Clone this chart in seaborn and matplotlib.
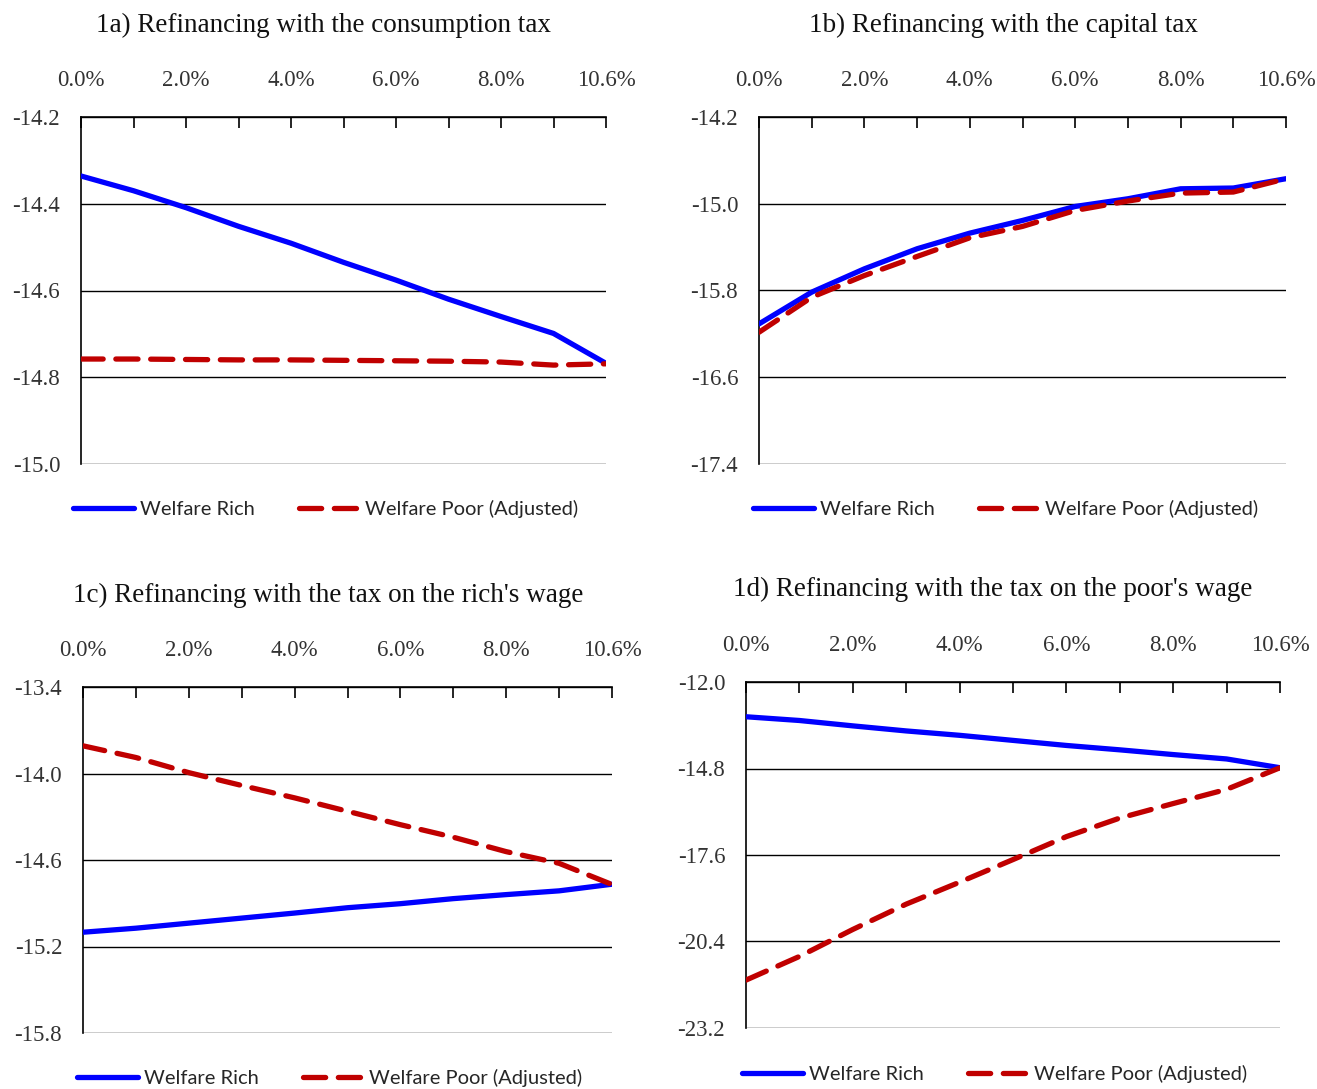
import numpy as np
import pandas as pd
import seaborn as sns
import matplotlib.pyplot as plt

# Tax-rate categories on the horizontal axis (percent)
rate_labels = ["0.0%", "1.0%", "2.0%", "3.0%", "4.0%", "5.0%",
               "6.0%", "7.0%", "8.0%", "9.0%", "10.6%"]
shown_labels = ["0.0%", "", "2.0%", "", "4.0%", "", "6.0%", "", "8.0%", "", "10.6%"]

# 1a) consumption tax
rich_a = [-14.336, -14.370, -14.409, -14.452, -14.491, -14.535,
          -14.576, -14.620, -14.660, -14.699, -14.768]
poor_a = [-14.758, -14.758, -14.759, -14.760, -14.760, -14.761,
          -14.762, -14.763, -14.765, -14.772, -14.769]
yticks_a = [-14.2, -14.4, -14.6, -14.8, -15.0]

# 1b) capital tax
rich_b = [-16.108, -15.815, -15.600, -15.415, -15.271, -15.154,
          -15.025, -14.954, -14.862, -14.855, -14.769]
poor_b = [-16.185, -15.862, -15.662, -15.486, -15.314, -15.209,
          -15.062, -14.975, -14.902, -14.892, -14.769]
yticks_b = [-14.2, -15.0, -15.8, -16.6, -17.4]

# 1c) tax on the rich's wage
rich_c = [-15.101, -15.073, -15.038, -15.003, -14.968, -14.931,
          -14.903, -14.868, -14.840, -14.814, -14.768]
poor_c = [-13.808, -13.889, -13.994, -14.083, -14.169, -14.262,
          -14.355, -14.442, -14.542, -14.623, -14.770]
yticks_c = [-13.4, -14.0, -14.6, -15.2, -15.8]

# 1d) tax on the poor's wage
rich_d = [-13.125, -13.246, -13.420, -13.584, -13.726, -13.890,
          -14.054, -14.196, -14.349, -14.491, -14.775]
poor_d = [-21.649, -20.884, -20.010, -19.190, -18.480, -17.748,
          -17.005, -16.404, -15.934, -15.475, -14.775]
yticks_d = [-12.0, -14.8, -17.6, -20.4, -23.2]

titles = ["1a) Refinancing with the consumption tax",
          "1b) Refinancing with the capital tax",
          "1c) Refinancing with the tax on the rich's wage",
          "1d) Refinancing with the tax on the poor's wage"]

series_names = ["Welfare Rich", "Welfare Poor (Adjusted)"]
palette = {"Welfare Rich": "#0000FF", "Welfare Poor (Adjusted)": "#C00000"}
dashes = {"Welfare Rich": "", "Welfare Poor (Adjusted)": (4.2, 2.4)}

sns.set_theme(style="white")
plt.rcParams["font.family"] = ["Liberation Serif", "DejaVu Serif"]
plt.rcParams["lines.dash_capstyle"] = "round"
plt.rcParams["lines.solid_capstyle"] = "round"

W, H = 1317, 1089
fig = plt.figure(figsize=(W / 100, H / 100), dpi=100)
fig.patch.set_facecolor("white")


def px_rect(left, right, top, bottom):
    return [left / W, 1 - bottom / H, (right - left) / W, (bottom - top) / H]


panels = [
    dict(rect=px_rect(81, 606, 117, 464), rich=rich_a, poor=poor_a, yt=yticks_a,
         title_xy=(323, 25), legend_xy=(326, 509)),
    dict(rect=px_rect(759, 1286, 117, 464), rich=rich_b, poor=poor_b, yt=yticks_b,
         title_xy=(1003, 25), legend_xy=(1006, 509)),
    dict(rect=px_rect(83, 612, 687, 1033), rich=rich_c, poor=poor_c, yt=yticks_c,
         title_xy=(328, 595), legend_xy=(330, 1078)),
    dict(rect=px_rect(746, 1280, 682, 1028), rich=rich_d, poor=poor_d, yt=yticks_d,
         title_xy=(993, 589), legend_xy=(995, 1074)),
]

for p, title in zip(panels, titles):
    ax = fig.add_axes(p["rect"])
    n = len(rate_labels)
    df = pd.DataFrame({
        "pos": list(range(n)) * 2,
        "value": p["rich"] + p["poor"],
        "series": [series_names[0]] * n + [series_names[1]] * n,
    })
    sns.lineplot(data=df, x="pos", y="value", hue="series", style="series",
                 hue_order=series_names, style_order=series_names,
                 palette=palette, dashes=dashes, linewidth=3.8, ax=ax,
                 legend=True, zorder=3)

    ax.set_xlim(0, n - 1)
    ax.set_ylim(p["yt"][-1], p["yt"][0])
    ax.set_xlabel("")
    ax.set_ylabel("")

    ax.xaxis.tick_top()
    ax.set_xticks(range(n))
    ax.set_xticklabels(shown_labels)
    ax.set_yticks(p["yt"])
    ax.set_yticklabels([f"{v:.1f}" for v in p["yt"]])
    ax.tick_params(axis="x", direction="in", length=8, width=1.2, color="black",
                   top=True, bottom=False, pad=19, labelsize=16.5,
                   labelcolor="#333333")
    ax.tick_params(axis="y", length=0, pad=15, labelsize=16.5,
                   labelcolor="#333333")

    ax.grid(axis="y", color="black", linewidth=1.0)
    ax.grid(axis="x", visible=False)
    for side in ["right", "bottom"]:
        ax.spines[side].set_visible(False)
    for side in ["top", "left"]:
        ax.spines[side].set_visible(True)
        ax.spines[side].set_color("black")
        ax.spines[side].set_linewidth(1.2)

    handles, labels = ax.get_legend_handles_labels()
    ax.legend(handles, labels, loc="center",
              bbox_to_anchor=(p["legend_xy"][0] / W, 1 - p["legend_xy"][1] / H),
              bbox_transform=fig.transFigure, ncol=2, frameon=False,
              handlelength=3.0, handletextpad=0.3, columnspacing=2.2,
              prop={"family": "Lato", "size": 14.5})

    fig.text(p["title_xy"][0] / W, 1 - p["title_xy"][1] / H, title,
             ha="center", va="center", fontsize=19.5, color="#111111",
             family=["Liberation Serif", "DejaVu Serif"])

fig.savefig("out.png", dpi=100, facecolor="white")
